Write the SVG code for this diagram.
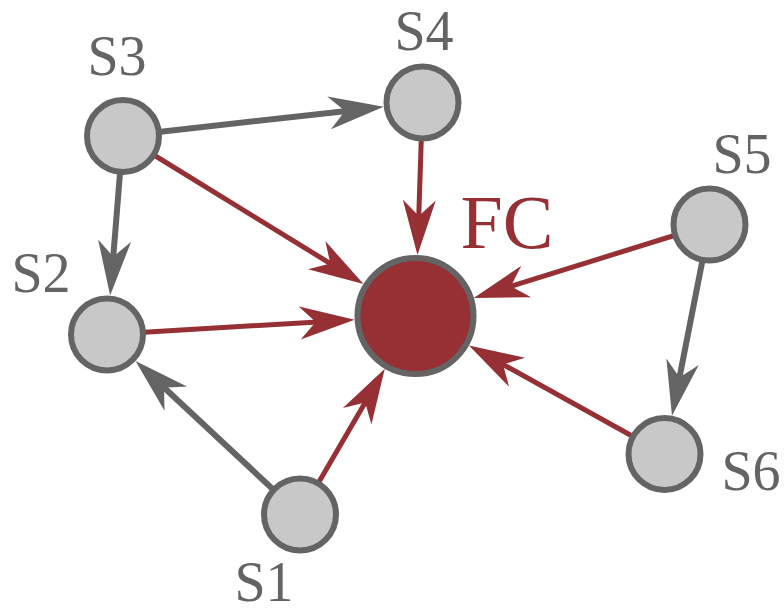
<svg xmlns="http://www.w3.org/2000/svg" width="784" height="616" viewBox="0 0 784 616">
<style>
.g{stroke:#646464;stroke-width:6;fill:none}
.r{stroke:#963034;stroke-width:5;fill:none}
.n{fill:#c8c8c8;stroke:#646464;stroke-width:6}
.fc{fill:#963034;stroke:#646464;stroke-width:6}
text{font-family:'Liberation Serif','DejaVu Serif',serif;text-anchor:middle}
.lbl{font-size:56px;fill:#646464}
.lfc{font-size:76px;fill:#963034}
</style>
<defs>
<marker id="ag" viewBox="0 -20 60 40" markerWidth="60" markerHeight="40" refX="18" refY="0" orient="auto" markerUnits="userSpaceOnUse"><path d="M55,0 L0,-16.5 L16,0 L0,16.5 Z" fill="#646464"/></marker>
<marker id="ar" viewBox="0 -20 60 40" markerWidth="60" markerHeight="40" refX="18" refY="0" orient="auto" markerUnits="userSpaceOnUse"><path d="M55,0 L0,-16.5 L16,0 L0,16.5 Z" fill="#963034"/></marker>
</defs>
<g id="connectors">
<line class="g" x1="123" y1="136" x2="347.0" y2="110.9" marker-end="url(#ag)"/>
<line class="g" x1="123" y1="136" x2="113.1" y2="258.7" marker-end="url(#ag)"/>
<line class="r" x1="123" y1="136" x2="332.0" y2="264.6" marker-end="url(#ar)"/>
<line class="r" x1="422.5" y1="102.5" x2="418.7" y2="218.0" marker-end="url(#ar)"/>
<line class="r" x1="709.5" y1="224.5" x2="509.0" y2="286.9" marker-end="url(#ar)"/>
<line class="r" x1="107" y1="334.5" x2="317.7" y2="321.9" marker-end="url(#ar)"/>
<line class="g" x1="300" y1="514.5" x2="162.6" y2="386.3" marker-end="url(#ag)"/>
<line class="r" x1="300" y1="514.5" x2="366.2" y2="400.7" marker-end="url(#ar)"/>
<line class="r" x1="664.5" y1="454" x2="501.3" y2="363.5" marker-end="url(#ar)"/>
<line class="g" x1="709.5" y1="224.5" x2="679.1" y2="379.4" marker-end="url(#ag)"/>
</g>
<g id="S3"><circle class="n" cx="123" cy="136" r="36"/><text class="lbl" x="117" y="75">S3</text></g>
<g id="S4"><circle class="n" cx="422.5" cy="102.5" r="36"/><text class="lbl" x="424" y="50">S4</text></g>
<g id="S2"><circle class="n" cx="107" cy="334.5" r="36"/><text class="lbl" x="41" y="292">S2</text></g>
<g id="S1"><circle class="n" cx="300" cy="514.5" r="36"/><text class="lbl" x="264" y="601">S1</text></g>
<g id="S5"><circle class="n" cx="709.5" cy="224.5" r="36"/><text class="lbl" x="742" y="173">S5</text></g>
<g id="S6"><circle class="n" cx="664.5" cy="454" r="36"/><text class="lbl" x="751" y="490">S6</text></g>
<g id="FC"><circle class="fc" cx="415.5" cy="316" r="58"/><text class="lfc" x="507" y="248">FC</text></g>
</svg>
